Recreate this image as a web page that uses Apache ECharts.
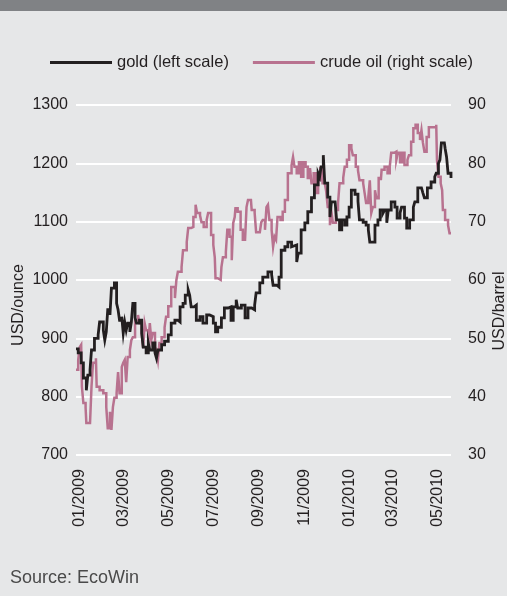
<!DOCTYPE html>
<html>
<head>
<meta charset="utf-8">
<script src="https://cdn.jsdelivr.net/npm/echarts@6/dist/echarts.min.js"></script>
<style>
html,body{margin:0;padding:0;background:#e6e7e8;}
#chart{width:507px;height:596px;}
</style>
</head>
<body>
<div id="chart"></div>
<script>
// ---- data ----
var xTicks = ['2009-01-01','2009-03-01','2009-05-01','2009-07-01','2009-09-01','2009-11-01','2010-01-01','2010-03-01','2010-05-01'];
var leftTicks = [700, 1300, 100];   // min, max, step (USD/ounce)
var rightTicks = [30, 90, 10];      // min, max, step (USD/barrel)

var goldDates = ['2008-12-27','2008-12-30','2009-01-03','2009-01-06','2009-01-10','2009-01-12','2009-01-15','2009-01-17','2009-01-21','2009-01-26','2009-01-28','2009-02-02','2009-02-04','2009-02-06','2009-02-08','2009-02-11','2009-02-13','2009-02-17','2009-02-20','2009-02-22','2009-02-24','2009-02-27','2009-03-01','2009-03-03','2009-03-05','2009-03-07','2009-03-10','2009-03-12','2009-03-14','2009-03-17','2009-03-19','2009-03-23','2009-03-26','2009-03-28','2009-04-01','2009-04-04','2009-04-06','2009-04-10','2009-04-13','2009-04-15','2009-04-17','2009-04-22','2009-04-26','2009-05-01','2009-05-05','2009-05-10','2009-05-14','2009-05-17','2009-05-21','2009-05-24','2009-05-28','2009-05-30','2009-06-01','2009-06-05','2009-06-08','2009-06-13','2009-06-17','2009-06-22','2009-06-26','2009-07-01','2009-07-04','2009-07-07','2009-07-12','2009-07-16','2009-07-21','2009-07-25','2009-07-28','2009-08-01','2009-08-03','2009-08-08','2009-08-13','2009-08-17','2009-08-22','2009-08-26','2009-08-28','2009-09-02','2009-09-06','2009-09-09','2009-09-13','2009-09-18','2009-09-20','2009-09-25','2009-09-28','2009-10-01','2009-10-06','2009-10-10','2009-10-15','2009-10-17','2009-10-22','2009-10-24','2009-10-28','2009-11-02','2009-11-06','2009-11-11','2009-11-15','2009-11-20','2009-11-22','2009-11-24','2009-11-27','2009-11-29','2009-12-03','2009-12-06','2009-12-08','2009-12-13','2009-12-15','2009-12-19','2009-12-22','2009-12-26','2009-12-29','2010-01-01','2010-01-04','2010-01-09','2010-01-13','2010-01-15','2010-01-20','2010-01-24','2010-01-27','2010-01-29','2010-02-02','2010-02-05','2010-02-09','2010-02-12','2010-02-16','2010-02-18','2010-02-21','2010-02-23','2010-02-27','2010-03-04','2010-03-07','2010-03-11','2010-03-13','2010-03-17','2010-03-20','2010-03-24','2010-03-29','2010-03-31','2010-04-04','2010-04-09','2010-04-11','2010-04-13','2010-04-17','2010-04-22','2010-04-27','2010-04-29','2010-05-02','2010-05-04','2010-05-06','2010-05-10','2010-05-11','2010-05-13','2010-05-15','2010-05-19'];
var goldValues = [882,875,858,832,811,837,846,880,900,906,928,914,897,911,949,940,986,995,960,949,931,937,909,928,914,926,911,928,960,935,926,931,909,885,875,892,880,892,875,866,880,889,895,906,926,931,928,954,960,974,983,974,954,957,931,937,926,940,937,926,911,919,935,952,954,931,954,966,952,957,935,952,949,957,978,995,1005,1005,1014,1009,991,988,1005,1051,1057,1065,1057,1060,1031,1046,1086,1098,1117,1141,1163,1183,1177,1194,1214,1166,1142,1108,1134,1137,1103,1086,1103,1094,1108,1125,1154,1147,1135,1103,1099,1094,1086,1065,1065,1094,1103,1120,1115,1120,1098,1120,1134,1125,1106,1115,1125,1106,1089,1103,1125,1134,1158,1160,1149,1141,1158,1168,1177,1183,1200,1206,1235,1235,1226,1211,1183,1175];

var oilDates = ['2008-12-27','2008-12-30','2009-01-01','2009-01-03','2009-01-04','2009-01-06','2009-01-09','2009-01-10','2009-01-15','2009-01-17','2009-01-19','2009-01-23','2009-01-24','2009-01-28','2009-02-02','2009-02-06','2009-02-08','2009-02-11','2009-02-13','2009-02-15','2009-02-17','2009-02-20','2009-02-22','2009-02-24','2009-02-27','2009-03-01','2009-03-03','2009-03-05','2009-03-07','2009-03-10','2009-03-12','2009-03-14','2009-03-17','2009-03-21','2009-03-23','2009-03-26','2009-03-28','2009-03-30','2009-04-01','2009-04-04','2009-04-06','2009-04-08','2009-04-10','2009-04-13','2009-04-15','2009-04-17','2009-04-19','2009-04-22','2009-04-26','2009-04-28','2009-05-01','2009-05-05','2009-05-10','2009-05-12','2009-05-14','2009-05-19','2009-05-21','2009-05-26','2009-05-28','2009-06-01','2009-06-04','2009-06-07','2009-06-09','2009-06-13','2009-06-15','2009-06-18','2009-06-22','2009-06-24','2009-06-28','2009-07-01','2009-07-03','2009-07-04','2009-07-07','2009-07-11','2009-07-12','2009-07-14','2009-07-18','2009-07-20','2009-07-23','2009-07-26','2009-07-28','2009-07-30','2009-07-31','2009-08-03','2009-08-07','2009-08-10','2009-08-13','2009-08-15','2009-08-17','2009-08-21','2009-08-22','2009-08-26','2009-08-28','2009-09-02','2009-09-04','2009-09-06','2009-09-09','2009-09-11','2009-09-13','2009-09-15','2009-09-18','2009-09-20','2009-09-22','2009-09-24','2009-09-26','2009-09-30','2009-10-03','2009-10-06','2009-10-10','2009-10-15','2009-10-17','2009-10-19','2009-10-22','2009-10-25','2009-10-28','2009-10-31','2009-11-03','2009-11-06','2009-11-09','2009-11-11','2009-11-14','2009-11-17','2009-11-20','2009-11-23','2009-11-26','2009-11-29','2009-12-01','2009-12-03','2009-12-06','2009-12-08','2009-12-10','2009-12-14','2009-12-17','2009-12-19','2009-12-24','2009-12-26','2009-12-29','2010-01-01','2010-01-04','2010-01-06','2010-01-10','2010-01-13','2010-01-15','2010-01-20','2010-01-22','2010-01-24','2010-01-27','2010-01-29','2010-01-31','2010-02-02','2010-02-05','2010-02-07','2010-02-10','2010-02-13','2010-02-14','2010-02-18','2010-02-22','2010-02-25','2010-02-27','2010-03-03','2010-03-06','2010-03-08','2010-03-11','2010-03-14','2010-03-17','2010-03-21','2010-03-23','2010-03-26','2010-03-29','2010-04-01','2010-04-04','2010-04-07','2010-04-09','2010-04-11','2010-04-13','2010-04-16','2010-04-19','2010-04-22','2010-04-26','2010-04-29','2010-04-30','2010-05-02','2010-05-05','2010-05-07','2010-05-08','2010-05-11','2010-05-15','2010-05-17','2010-05-19'];
var oilValues = [44.6,46.3,48.5,48.9,41.7,38.9,38.1,35.5,35.5,41.7,45.8,46.6,41.7,41.1,40.6,38.2,34.6,37.4,34.3,38.2,39.8,40.6,44.2,40.6,45.1,45.8,46.3,42.5,46.8,48,49.7,50.2,53.1,54,52.6,50.9,48.3,52.6,51.4,49.2,52.6,49.7,50.9,48.5,48,46.3,49.2,50.2,51.9,53.7,55.5,58.8,56.9,60,61.4,62.2,65.1,66.5,68.9,69.1,70.8,72.9,71.5,71.1,69.9,69.1,70.3,71.5,67.7,66,63.9,60.3,60,60,62.2,63.9,64.8,68.6,67.4,63.4,69.8,70.8,72.3,71.7,68.6,66.9,67.2,72.5,73.7,74,72,71.5,68.2,68.2,69.9,70.3,68.6,72.5,72.9,70.3,68.6,65.7,67.4,66.9,70.8,70.3,71.7,73.7,78.3,79.7,81.1,79.4,78.3,80.2,77.7,80.2,79.4,77.5,79.2,76.6,78.3,74.9,77.1,79.2,76.6,76.8,75.1,72.5,69.4,71.7,69.8,72,73.2,76.6,77.5,79.4,80.6,83.1,82.6,81.4,79.4,78.8,77.1,76.6,74.9,73.2,74.2,77.1,71.5,72.5,75.4,74,77.5,77.1,78.9,79.4,78.3,79.4,81.8,82,80.6,81.8,80.2,81.8,79.7,80.6,81.4,83.7,86,86.6,85.2,84,85.7,83.5,82,84.5,86.2,86.2,86.2,86.6,80.6,77.7,76.6,75.4,72,70.3,69.4,68,68];

var seriesNames = ['gold (left scale)', 'crude oil (right scale)'];
var xRange = ['2008-12-27', '2010-05-19'];
var sourceText = 'Source: EcoWin';
var leftName = 'USD/ounce';
var rightName = 'USD/barrel';

// ---- build ----
function ts(s) { var p = s.split('-'); return Date.UTC(+p[0], +p[1] - 1, +p[2]); }
function pairs(d, v) { return d.map(function (x, i) { return [ts(x), v[i]]; }); }
function fmt(v) { var d = new Date(v); var m = d.getUTCMonth() + 1; return (m < 10 ? '0' : '') + m + '/' + d.getUTCFullYear(); }
var FONT = '"Liberation Sans", Arial, Helvetica, sans-serif';
var TXT = '#231f20';

var chart = echarts.init(document.getElementById('chart'), null, { renderer: 'canvas' });
chart.setOption({
  animation: false,
  backgroundColor: '#e6e7e8',
  textStyle: { fontFamily: FONT },
  grid: { left: 76, right: 56, top: 105, bottom: 141, containLabel: false },
  legend: {
    left: 50, top: 54, padding: 0, itemGap: 24,
    itemWidth: 62, itemHeight: 3, icon: 'rect',
    textStyle: { fontSize: 16.5, color: TXT, fontFamily: FONT },
    data: seriesNames
  },
  xAxis: {
    type: 'value',
    min: ts(xRange[0]),
    max: ts(xRange[1]),
    axisLine: { show: false },
    axisTick: { show: false },
    splitLine: { show: false },
    axisLabel: {
      customValues: xTicks.map(ts),
      rotate: 90, margin: 14, fontSize: 16, color: TXT, fontFamily: FONT,
      hideOverlap: false,
      formatter: fmt
    }
  },
  yAxis: [{
    type: 'value', min: leftTicks[0], max: leftTicks[1], interval: leftTicks[2],
    position: 'left',
    axisLine: { show: false }, axisTick: { show: false },
    splitLine: { show: true, lineStyle: { color: '#ffffff', width: 2 } },
    axisLabel: { margin: 8, fontSize: 16, color: TXT, fontFamily: FONT, formatter: function (v) { return String(v); } }
  }, {
    type: 'value', min: rightTicks[0], max: rightTicks[1], interval: rightTicks[2],
    position: 'right',
    axisLine: { show: false }, axisTick: { show: false },
    splitLine: { show: false },
    axisLabel: { margin: 17, fontSize: 16, color: TXT, fontFamily: FONT, formatter: function (v) { return String(v); } }
  }],
  series: [{
    name: seriesNames[0], type: 'line', yAxisIndex: 0, z: 3, step: 'end',
    showSymbol: false, symbol: 'none',
    itemStyle: { color: '#231f20' },
    lineStyle: { color: '#231f20', width: 2.8, join: 'miter' },
    data: pairs(goldDates, goldValues)
  }, {
    name: seriesNames[1], type: 'line', yAxisIndex: 1, z: 2, step: 'end',
    showSymbol: false, symbol: 'none',
    itemStyle: { color: '#b8728f' },
    lineStyle: { color: '#b8728f', width: 2.5, join: 'miter' },
    data: pairs(oilDates, oilValues)
  }],
  graphic: [
    { type: 'rect', left: 0, top: 0, shape: { width: 507, height: 11 }, style: { fill: '#808285' }, silent: true },
    { type: 'text', x: 19, y: 305, rotation: Math.PI / 2,
      style: { text: leftName, font: '16px ' + FONT, fill: TXT, align: 'center', verticalAlign: 'middle' } },
    { type: 'text', x: 500, y: 311, rotation: Math.PI / 2,
      style: { text: rightName, font: '16px ' + FONT, fill: TXT, align: 'center', verticalAlign: 'middle' } },
    { type: 'text', left: 10, top: 569,
      style: { text: sourceText, font: '18px ' + FONT, fill: '#4a4a4a' } }
  ]
});
</script>
</body>
</html>
